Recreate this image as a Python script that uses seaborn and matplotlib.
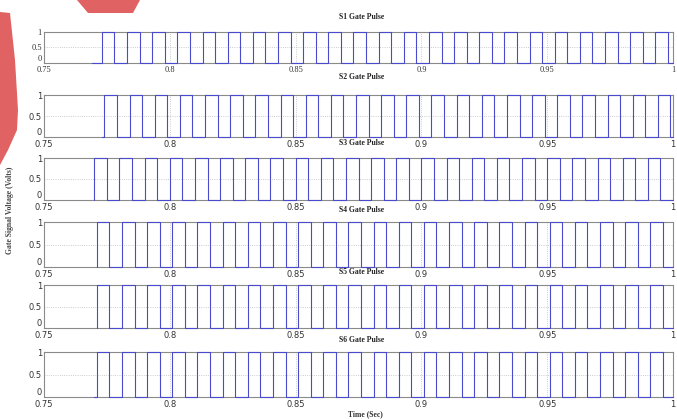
import numpy as np
import pandas as pd
import matplotlib
matplotlib.use("Agg")
import matplotlib.pyplot as plt
from matplotlib.patches import Polygon
import seaborn as sns

# Gate pulse rising-edge times (s) for each switch
s1_rise = [0.773, 0.783, 0.793, 0.803, 0.813, 0.823, 0.833, 0.843, 0.853, 0.863, 0.873, 0.883,
           0.893, 0.903, 0.913, 0.923, 0.933, 0.943, 0.953, 0.963, 0.973, 0.983, 0.993]
s2_rise = [0.774, 0.784, 0.794, 0.804, 0.814, 0.824, 0.834, 0.844, 0.854, 0.864, 0.874, 0.884,
           0.894, 0.904, 0.914, 0.924, 0.934, 0.944, 0.954, 0.964, 0.974, 0.984, 0.994]
s3_rise = [0.770, 0.780, 0.790, 0.800, 0.810, 0.820, 0.830, 0.840, 0.850, 0.860, 0.870, 0.880,
           0.890, 0.900, 0.910, 0.920, 0.930, 0.940, 0.950, 0.960, 0.970, 0.980, 0.990]
s4_rise = [0.771, 0.781, 0.791, 0.801, 0.811, 0.821, 0.831, 0.841, 0.851, 0.861, 0.871, 0.881,
           0.891, 0.901, 0.911, 0.921, 0.931, 0.941, 0.951, 0.961, 0.971, 0.981, 0.991]
s5_rise = [0.771, 0.781, 0.791, 0.801, 0.811, 0.821, 0.831, 0.841, 0.851, 0.861, 0.871, 0.881,
           0.891, 0.901, 0.911, 0.921, 0.931, 0.941, 0.951, 0.961, 0.971, 0.981, 0.991]
s6_rise = [0.771, 0.781, 0.791, 0.801, 0.811, 0.821, 0.831, 0.841, 0.851, 0.861, 0.871, 0.881,
           0.891, 0.901, 0.911, 0.921, 0.931, 0.941, 0.951, 0.961, 0.971, 0.981, 0.991]
# on-time of each pulse (s)
pulse_width = [0.005, 0.005, 0.005, 0.005, 0.005, 0.005]
# time at which each trace is first recorded (s)
trace_start = [0.769, 0.773, 0.770, 0.771, 0.771, 0.770]

titles = ["S1 Gate Pulse", "S2 Gate Pulse", "S3 Gate Pulse",
          "S4 Gate Pulse", "S5 Gate Pulse", "S6 Gate Pulse"]
x_ticks = [0.75, 0.8, 0.85, 0.9, 0.95, 1.0]
x_ticklabels = ["0.75", "0.8", "0.85", "0.9", "0.95", "1"]
y_ticks = [0, 0.5, 1]
y_ticklabels = ["0", "0.5", "1"]
t_start, t_end = 0.75, 1.0

all_rises = [s1_rise, s2_rise, s3_rise, s4_rise, s5_rise, s6_rise]


def gate_frame(rises, width, first):
    """Turn rising edges into a 0/1 step trace."""
    t, v = [first], [0.0]
    for r in rises:
        t += [r, r, r + width, r + width]
        v += [0.0, 1.0, 1.0, 0.0]
    t.append(t_end)
    v.append(0.0)
    return pd.DataFrame({"Time": t, "Gate": v})


sns.set_theme(style="white")
plt.rcParams["font.family"] = ["DejaVu Sans"]

W, H = 677, 419
fig = plt.figure(figsize=(W / 100, H / 100), dpi=100)

# axes boxes in pixel rows (top, bottom)
rows = [(32, 63), (95, 137), (158, 200), (222, 267), (285, 328), (352, 397)]
title_y = [17, 77, 143, 210, 272, 340]
left_px, right_px = 44, 673

line_color = "#4a4acc"
serif = ["Liberation Serif", "DejaVu Serif"]

for i, (top, bot) in enumerate(rows):
    ax = fig.add_axes([left_px / W, 1 - bot / H, (right_px - left_px) / W, (bot - top) / H])
    df = gate_frame(all_rises[i], pulse_width[i], trace_start[i])
    sns.lineplot(data=df, x="Time", y="Gate", sort=False, estimator=None,
                 color=line_color, linewidth=0.8, ax=ax, clip_on=False, zorder=3)
    ax.set_xlim(t_start, t_end)
    ax.set_ylim(0, 1)
    ax.set_xticks(x_ticks)
    ax.set_yticks(y_ticks)
    tick_font = serif if i == 0 else ["DejaVu Sans"]
    ax.set_xticklabels(x_ticklabels, family=tick_font, fontsize=6, color="#333333")
    ylabels = ax.set_yticklabels(y_ticklabels, family=tick_font, fontsize=6, color="#333333")
    # the zero label sits just above the bottom edge, clear of the time labels
    ylabels[0].set_verticalalignment("bottom")
    ax.tick_params(axis="x", direction="in", length=2.5, width=0.5,
                   colors="#777777", labelcolor="#333333", pad=2.5)
    ax.tick_params(axis="y", direction="in", length=2.5, width=0.5,
                   colors="#777777", labelcolor="#333333", pad=1.5)
    ax.set_xlabel("")
    ax.set_ylabel("")
    ax.grid(True, linestyle=":", linewidth=0.6, color="#bbbbbb")
    for sp in ax.spines.values():
        sp.set_color("#8a8a8a")
        sp.set_linewidth(0.8)
    fig.text(362 / W, 1 - title_y[i] / H, titles[i], ha="center", va="center",
             fontsize=5.5, fontweight="bold", family=serif, color="#222222")

fig.text(365 / W, 1 - 414 / H, "Time (Sec)", ha="center", va="center",
         fontsize=5.5, fontweight="bold", family=serif, color="#333333")
fig.text(10 / W, 1 - 210 / H, "Gate Signal Voltage (Volts)", ha="center", va="center",
         rotation=90, fontsize=5.5, fontweight="bold", family=serif, color="#444444")

# red logo corner shapes
red = "#e06262"
top_shape = [(77, 0), (140, 0), (133, 13), (88, 13)]
side_shape = [(0, 12), (10, 13), (15, 60), (18, 110), (17, 130), (8, 150), (0, 165)]
for shape in (top_shape, side_shape):
    pts = [(x / W, 1 - y / H) for x, y in shape]
    fig.patches.append(Polygon(pts, closed=True, transform=fig.transFigure,
                               facecolor=red, edgecolor="none", zorder=0))

fig.savefig("out.png", dpi=100)
